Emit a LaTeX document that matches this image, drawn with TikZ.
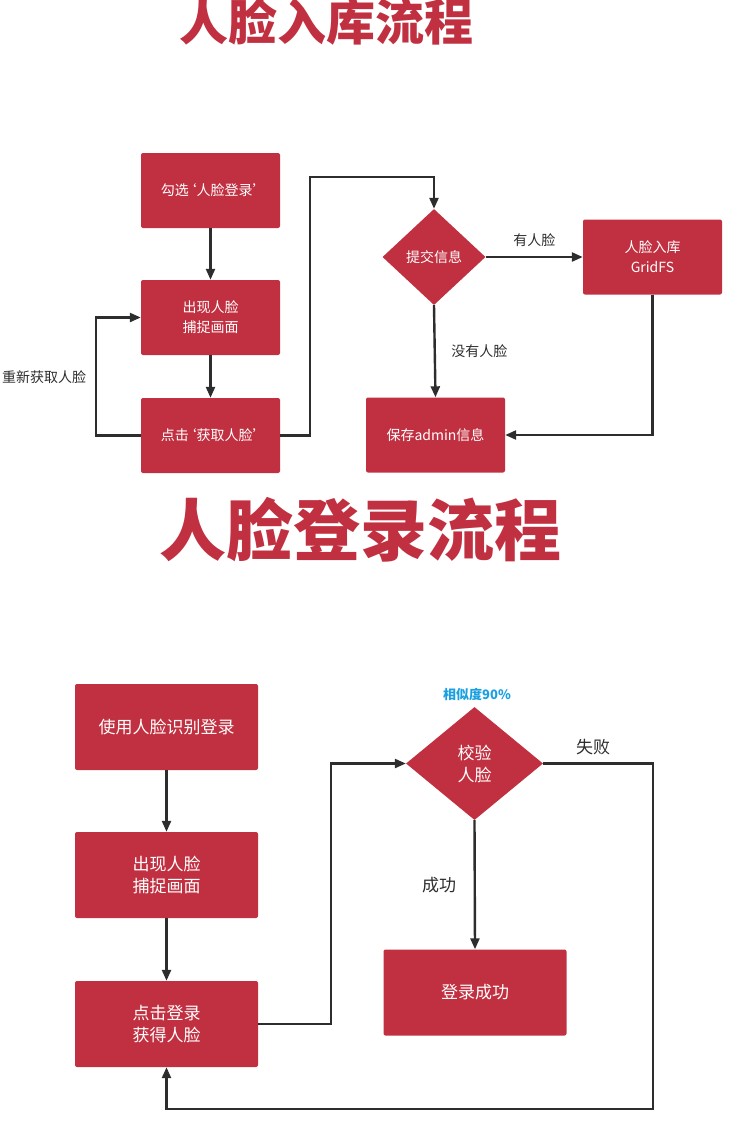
\documentclass[tikz,border=0pt]{standalone}
\usepackage{fontspec}
\setmainfont{Noto Sans CJK SC}
\usepackage{xcolor}
\usepackage{tikz}
\usetikzlibrary{shapes.geometric, arrows.meta, positioning, calc}
\definecolor{flowred}{RGB}{193,48,64}
\definecolor{linegray}{RGB}{45,45,45}
\definecolor{hintblue}{RGB}{26,160,224}
\tikzstyle{stepbox} = [rectangle, rounded corners=2pt, minimum width=139pt, minimum height=75pt, text centered, align=center, fill=flowred, text=white, font=\fontsize{14}{20}\selectfont]
\tikzstyle{bigbox} = [stepbox, minimum width=183pt, minimum height=86pt, font=\fontsize{17}{22}\selectfont]
\tikzstyle{check} = [diamond, aspect=1, inner sep=0pt, fill=flowred, text=white, align=center]
\tikzstyle{arr} = [-{Triangle[length=11pt, width=9pt]}, line width=2.4pt, draw=linegray]
\tikzstyle{lab} = [text=linegray, font=\fontsize{14}{14}\selectfont]
\tikzstyle{heading} = [text=flowred, font=\bfseries]

\begin{document}
\begin{tikzpicture}[x=1pt, y=-1pt]
  \useasboundingbox (0,0) rectangle (735,1128);
  % ---------- face registration (top) ----------
  \node[heading, font=\bfseries\fontsize{49}{49}\selectfont] (regtitle) at (326, 22) {人脸入库流程};
  \node[stepbox] (tick)    at (210.5, 190.5) {勾选\kern-0.45em‘人脸登录’\kern-0.45em};
  \node[stepbox] (capture) at (210.5, 317.5) {出现人脸\\捕捉画面};
  \node[stepbox] (getface) at (210.5, 435.5) {点击\kern-0.45em‘获取人脸’\kern-0.45em};
  \node[check, minimum width=103pt, minimum height=96pt, font=\fontsize{14}{20}\selectfont] (submit) at (434, 257) {提交信息};
  \node[stepbox] (gridfs)  at (652.5, 257) {人脸入库\\GridFS};
  \node[stepbox] (saveadmin) at (435.5, 435) {保存admin信息};
  \coordinate (turnA) at (310, 177);
  \draw[arr] (tick) -- (capture);
  \draw[arr] (capture) -- (getface);
  \draw[arr] (getface.west) -- ++(-45,0) |- (capture.west);
  \node[lab] (retry) at (44, 377) {重新获取人脸};
  \draw[arr] (getface.east) -| (turnA) -| (submit.north);
  \draw[arr] (submit.east) -- (gridfs.west) node[lab, midway, above=6pt] (hasface) {有人脸};
  \draw[arr] (submit.south) -- (saveadmin.north) node[lab, midway, right=12pt] (noface) {没有人脸};
  \draw[arr] (gridfs.south) |- (saveadmin.east);
  % ---------- face login (bottom) ----------
  \node[heading, font=\bfseries\fontsize{67}{67}\selectfont] (logintitle) at (360, 530) {人脸登录流程};
  \node[bigbox] (uselogin)   at (166.5, 727) {使用人脸识别登录};
  \node[bigbox] (capture2)   at (166.5, 875) {出现人脸\\捕捉画面};
  \node[bigbox] (clicklogin) at (166.5, 1024) {点击登录\\获得人脸};
  \node[check, minimum width=137pt, minimum height=113pt, font=\fontsize{17}{22}\selectfont] (verify) at (474.5, 763.5) {校验\\人脸};
  \node[text=hintblue, font=\bfseries\fontsize{13}{13}\selectfont] (similar) at (477, 694) {相似度90\%};
  \node[bigbox] (loginok) at (475, 992.5) {登录成功};
  \coordinate (failcorner) at (653, 1109);
  \draw[arr] (uselogin) -- (capture2);
  \draw[arr] (capture2) -- (clicklogin);
  \draw[arr] (clicklogin.east) -- ++(73,0) |- (verify.west);
  \draw[arr] (verify.south) -- (loginok.north) node[lab, midway, left=14pt, font=\fontsize{17}{17}\selectfont] (success) {成功};
  \draw[arr] (verify.east) -| (failcorner) -| (clicklogin.south);
  \node[lab, font=\fontsize{17}{17}\selectfont] (fail) at (593, 747) {失败};
\end{tikzpicture}
\end{document}
